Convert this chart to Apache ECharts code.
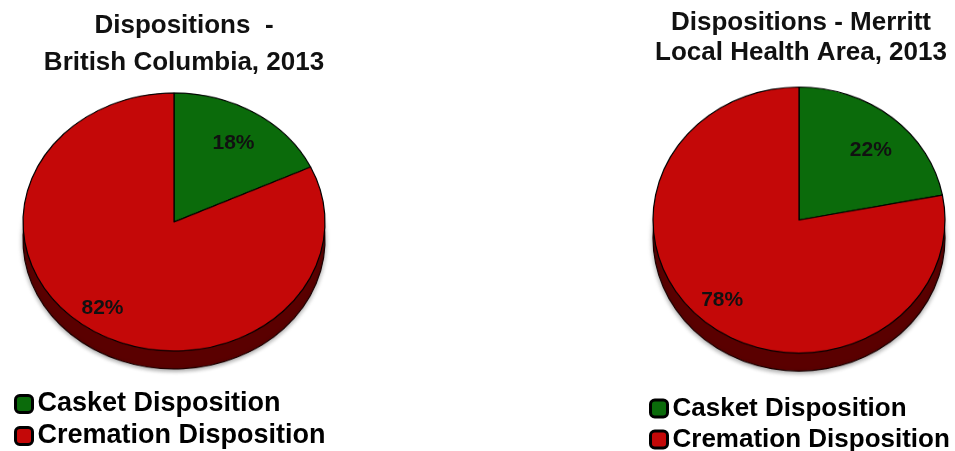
<!DOCTYPE html>
<html><head><meta charset="utf-8">
<script src="https://cdn.jsdelivr.net/npm/echarts@6/dist/echarts.min.js"></script>
<style>
html,body{margin:0;padding:0;background:#fff;}
#wrap{position:relative;width:955px;height:451px;overflow:hidden;background:#fff;}
.layer{position:absolute;left:0;top:0;width:955px;height:451px;transform-origin:0 0;}
</style></head><body>
<div id="wrap">
<div id="pieL" class="layer"></div>
<div id="pieR" class="layer"></div>
<div id="main" class="layer"></div>
</div>
<script>
// ---- data ----
const categories = ['Casket Disposition', 'Cremation Disposition'];
const bcValues = [18, 82];
const merrittValues = [22, 78];
const bcTitle = 'Dispositions  -\nBritish Columbia, 2013';
const merrittTitle = 'Dispositions - Merritt\nLocal Health Area, 2013';

// ---- styles ----
const topColors = ['#0B6B0B', '#C40808'];
const depthColors = ['#073F07', '#5A0000'];
const FONT = '"Liberation Sans", Arial, sans-serif';
// label nudges (padding: top, right, bottom, left) to mimic the original placement
const bcLabelPad = [[0, 0, 0, 26], [0, 26, 0, 0]];
const merrittLabelPad = [[0, 0, 0, 26], [0, 24, 0, 0]];

function toData(values, colors, pads) {
  return categories.map((name, i) => {
    const d = { name, value: values[i] };
    if (colors) d.itemStyle = { color: colors[i] };
    if (pads) d.label = { padding: pads[i] };
    return d;
  });
}

// Elliptical "3D" pie: a circular ECharts pie squashed vertically by CSS
function makePie(id, values, cx, cy, rx, ry, depth) {
  const s = ry / rx;
  const el = document.getElementById(id);
  el.style.height = (451 / s) + 'px';
  el.style.transform = 'scaleY(' + s + ')';
  const chart = echarts.init(el, null, { renderer: 'canvas' });
  chart.setOption({
    animation: false,
    backgroundColor: 'transparent',
    series: [
      {
        type: 'pie', silent: true, radius: rx, center: [cx, (cy + depth) / s],
        label: { show: false }, labelLine: { show: false },
        itemStyle: { borderColor: '#1a0000', borderWidth: 1.2, shadowColor: 'rgba(0,0,0,0.35)', shadowBlur: 5, shadowOffsetY: 2 },
        data: toData(values, depthColors)
      },
      {
        type: 'pie', silent: true, radius: rx, center: [cx, cy / s],
        label: { show: false }, labelLine: { show: false },
        itemStyle: { borderColor: '#000', borderWidth: 1.2 },
        data: toData(values, topColors)
      }
    ]
  });
}

makePie('pieL', bcValues, 174, 222, 151, 129, 18);
makePie('pieR', merrittValues, 799, 220, 146, 133, 18);

// Titles, legends and percent labels
const main = echarts.init(document.getElementById('main'));
const legendData = categories.map((name, i) => ({ name, itemStyle: { color: topColors[i], borderColor: '#000', borderWidth: 3 } }));
function labelPie(values, center, radius, pads) {
  return {
    type: 'pie', silent: true, radius: [0, radius], center,
    itemStyle: { color: 'transparent', borderWidth: 0 },
    label: { show: true, position: 'inside', formatter: '{c}%', color: '#111', fontSize: 21, fontWeight: 'bold', fontFamily: FONT },
    labelLine: { show: false },
    emphasis: { disabled: true },
    data: toData(values, null, pads)
  };
}
main.setOption({
  animation: false,
  backgroundColor: 'transparent',
  title: [
    { text: bcTitle, left: 184, top: 7, textAlign: 'center', padding: 0,
      textStyle: { fontSize: 26, fontWeight: 'bold', fontFamily: FONT, color: '#111', lineHeight: 37 } },
    { text: merrittTitle, left: 801, top: 8, textAlign: 'center', padding: 0,
      textStyle: { fontSize: 26, fontWeight: 'bold', fontFamily: FONT, color: '#111', lineHeight: 30 } }
  ],
  legend: [
    { orient: 'vertical', left: 14, top: 388, height: 90, padding: 0, itemGap: 0, itemWidth: 17, itemHeight: 17, icon: 'roundRect',
      selectedMode: false, data: legendData,
      textStyle: { fontSize: 27, fontWeight: 'bold', fontFamily: FONT, color: '#000', lineHeight: 32 } },
    { orient: 'vertical', left: 649, top: 393, height: 90, padding: 0, itemGap: 0, itemWidth: 17, itemHeight: 17, icon: 'roundRect',
      selectedMode: false, data: legendData,
      textStyle: { fontSize: 26, fontWeight: 'bold', fontFamily: FONT, color: '#000', lineHeight: 31 } }
  ],
  series: [
    labelPie(bcValues, [168, 225.5], 190, bcLabelPad),
    labelPie(merrittValues, [796, 225], 188, merrittLabelPad)
  ]
});
</script>
</body></html>
